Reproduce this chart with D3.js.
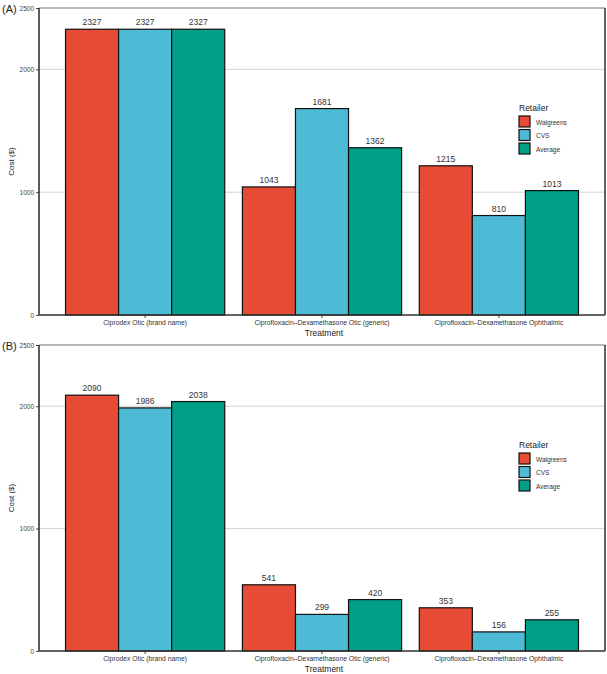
<!DOCTYPE html>
<html lang="en">
<head>
<meta charset="UTF-8">
<title>Cost by treatment and retailer</title>
<script src="https://d3js.org/d3.v7.min.js"></script>
<style>
  body { margin: 0; background: #fff; }
  svg { display: block; font-family: "Liberation Sans", Arial, sans-serif; }
</style>
</head>
<body>
<svg id="chart" width="607" height="674"></svg>
<script>
// data
const treatments = ["Ciprodex Otic (brand name)", "Ciprofloxacin\u2013Dexamethasone Otic (generic)", "Ciprofloxacin\u2013Dexamethasone Ophthalmic"];
const retailers = ["Walgreens", "CVS", "Average"];
const yTicks = [0, 1000, 2000, 2500];

const panelA_walgreens = [2327, 1043, 1215];
const panelA_cvs = [2327, 1681, 810];
const panelA_average = [2327, 1362, 1013];

const panelB_walgreens = [2090, 541, 353];
const panelB_cvs = [1986, 299, 156];
const panelB_average = [2038, 420, 255];

const colors = ["#E64B35", "#4DBBD5", "#00A087"];

const svg = d3.select("#chart");

function drawPanel(tag, series, top, bottom) {
  const left = 39, right = 605;
  const g = svg.append("g");

  const y = d3.scaleLinear().domain([0, 2500]).range([bottom, top]);
  // ggplot-like discrete expansion: 0.6 units each side, bars 0.9 wide
  const x = d3.scaleBand().domain(treatments).range([left, right])
    .paddingInner(0.1).paddingOuter(0.15);
  const xs = d3.scaleBand().domain(retailers).range([0, x.bandwidth()]);
  const color = d3.scaleOrdinal().domain(retailers).range(colors);

  // grid
  g.selectAll("line.grid").data([1000, 2000]).join("line")
    .attr("x1", left).attr("x2", right)
    .attr("y1", d => y(d)).attr("y2", d => y(d))
    .attr("stroke", "#c8c8c8").attr("stroke-width", 0.8);

  // panel border top / right
  g.append("line").attr("x1", left).attr("x2", right).attr("y1", top).attr("y2", top)
    .attr("stroke", "#777").attr("stroke-width", 1.2);
  g.append("line").attr("x1", right).attr("x2", right).attr("y1", top).attr("y2", bottom)
    .attr("stroke", "#222").attr("stroke-width", 1.4);

  const rows = treatments.map((t, i) => retailers.map((r, j) => ({ t, r, v: series[j][i] })));

  const grp = g.selectAll("g.grp").data(rows).join("g")
    .attr("transform", (d, i) => `translate(${x(treatments[i])},0)`);

  grp.selectAll("rect").data(d => d).join("rect")
    .attr("x", d => xs(d.r))
    .attr("width", xs.bandwidth())
    .attr("y", d => y(d.v))
    .attr("height", d => y(0) - y(d.v))
    .attr("fill", d => color(d.r))
    .attr("stroke", "#111").attr("stroke-width", 1.2);

  grp.selectAll("text").data(d => d).join("text")
    .attr("x", d => xs(d.r) + xs.bandwidth() / 2)
    .attr("y", d => y(d.v) - 4)
    .attr("text-anchor", "middle")
    .attr("font-size", 8.5).attr("fill", "#333")
    .text(d => d.v);

  // axes
  const ya = g.append("g").attr("transform", `translate(${left},0)`)
    .call(d3.axisLeft(y).tickValues(yTicks).tickFormat(d3.format("d")).tickSize(3).tickPadding(2));
  ya.select(".domain").remove();
  ya.selectAll("line").attr("stroke", "#444");
  ya.selectAll("text").attr("font-size", 6.5).attr("fill", "#444");

  const xa = g.append("g").attr("transform", `translate(0,${bottom})`)
    .call(d3.axisBottom(x).tickSize(3).tickPadding(2));
  xa.select(".domain").remove();
  xa.selectAll("line").attr("stroke", "#444");
  xa.selectAll("text").attr("font-size", 6.8).attr("fill", "#333");

  g.append("line").attr("x1", left).attr("x2", left).attr("y1", top).attr("y2", bottom)
    .attr("stroke", "#333").attr("stroke-width", 1.6);
  g.append("line").attr("x1", left).attr("x2", right).attr("y1", bottom).attr("y2", bottom)
    .attr("stroke", "#333").attr("stroke-width", 1.6);

  g.append("text").attr("x", (left + right) / 2 + 2).attr("y", bottom + 21)
    .attr("text-anchor", "middle").attr("font-size", 8.5).attr("fill", "#222")
    .text("Treatment");

  g.append("text")
    .attr("transform", `translate(14,${(top + bottom) / 2}) rotate(-90)`)
    .attr("text-anchor", "middle").attr("font-size", 8).attr("fill", "#222")
    .text("Cost ($)");

  g.append("text").attr("x", 2).attr("y", top + 5)
    .attr("font-size", 11).attr("fill", "#222").text(tag);

  // legend
  const lx = 519, ly = top + 96;
  g.append("text").attr("x", lx).attr("y", ly + 7)
    .attr("font-size", 8.5).attr("fill", "#222").text("Retailer");
  const lg = g.selectAll("g.leg").data(retailers).join("g")
    .attr("transform", (d, i) => `translate(${lx},${ly + 12 + i * 13.5})`);
  lg.append("rect").attr("width", 11).attr("height", 11)
    .attr("fill", d => color(d)).attr("stroke", "#111").attr("stroke-width", 1.2);
  lg.append("text").attr("x", 17).attr("y", 8.5)
    .attr("font-size", 6.5).attr("fill", "#333").text(d => d);
}

drawPanel("(A)", [panelA_walgreens, panelA_cvs, panelA_average], 8, 315);
drawPanel("(B)", [panelB_walgreens, panelB_cvs, panelB_average], 345, 651);
</script>
</body>
</html>
